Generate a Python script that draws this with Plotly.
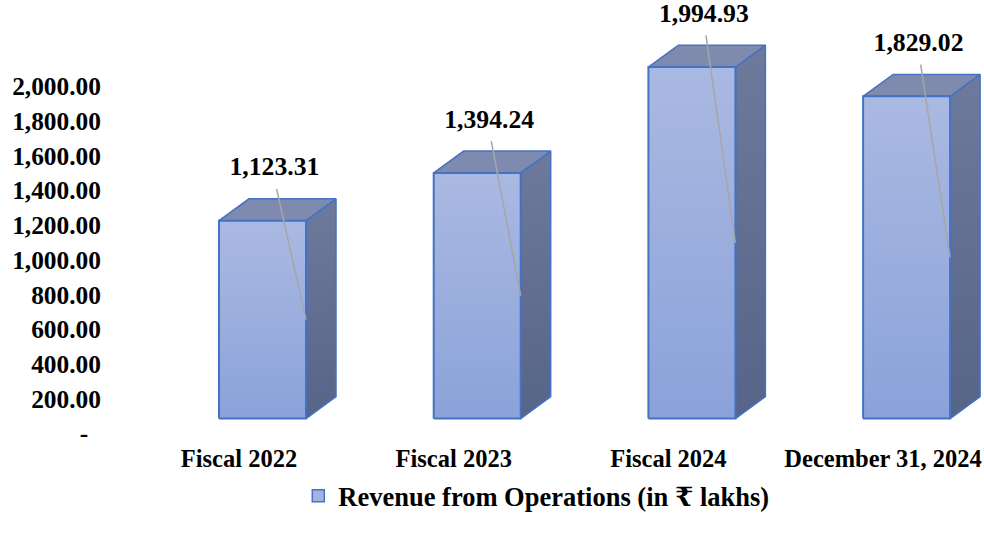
import plotly.graph_objects as go

# ---------------- data ----------------
categories = ["Fiscal 2022", "Fiscal 2023", "Fiscal 2024", "December 31, 2024"]
revenue = [1123.31, 1394.24, 1994.93, 1829.02]
value_labels = ["1,123.31", "1,394.24", "1,994.93", "1,829.02"]
y_tick_values = [0, 200, 400, 600, 800, 1000, 1200, 1400, 1600, 1800, 2000]
y_tick_labels = ["-\u00a0\u00a0", "200.00", "400.00", "600.00", "800.00", "1,000.00",
                 "1,200.00", "1,400.00", "1,600.00", "1,800.00", "2,000.00"]
series_name = "Revenue from Operations (in ₹ lakhs)"

# ---------------- layout constants (pixels) ----------------
W, H = 984, 542
PLOT_L, PLOT_R, PLOT_T, PLOT_B = 115, 984, 0, 436
X0_PX, X_STEP = 239, 214.7          # first category position, spacing
AX_SCALE = 0.1745                   # px per unit of the label axis
BAR_SCALE = 0.1772                  # px per unit of the bar axis
BAR_BASE_PX = 421                   # pixel row of the bar bottoms
FRONT_L_PX, FRONT_R_PX = -20, 67    # front face relative to category pos
DEPTH_X_PX, DEPTH_Y_PX = 30, 22

x_range = [(PLOT_L - X0_PX) / X_STEP, (PLOT_R - X0_PX) / X_STEP]
y_range = [0, (PLOT_B - PLOT_T) / AX_SCALE]
y2_range = [-(PLOT_B - BAR_BASE_PX) / BAR_SCALE, (BAR_BASE_PX - PLOT_T) / BAR_SCALE]

fl, fr = FRONT_L_PX / X_STEP, FRONT_R_PX / X_STEP
dx, dy = DEPTH_X_PX / X_STEP, DEPTH_Y_PX / BAR_SCALE

FONT = "Liberation Serif, Times New Roman, DejaVu Serif, serif"
EDGE = "#4472C4"

fig = go.Figure()

for i, v in enumerate(revenue):
    xl, xr = i + fl, i + fr
    # side face
    fig.add_trace(go.Scatter(
        x=[xr, xr + dx, xr + dx, xr, xr], y=[0, dy, v + dy, v, 0],
        mode="lines", fill="toself", yaxis="y2",
        line=dict(color=EDGE, width=1.5),
        fillgradient=dict(type="vertical",
                          colorscale=[[0, "#566488"], [1, "#6E7A9C"]]),
        hoverinfo="skip", showlegend=False))
    # top face
    fig.add_trace(go.Scatter(
        x=[xl, xr, xr + dx, xl + dx, xl], y=[v, v, v + dy, v + dy, v],
        mode="lines", fill="toself", yaxis="y2",
        line=dict(color=EDGE, width=1.5), fillcolor="#7E8BAE",
        hoverinfo="skip", showlegend=False))
    # front face
    fig.add_trace(go.Scatter(
        x=[xl, xr, xr, xl, xl], y=[0, 0, v, v, 0],
        mode="lines", fill="toself", yaxis="y2",
        line=dict(color=EDGE, width=2),
        fillgradient=dict(type="vertical",
                          colorscale=[[0, "#8BA2D9"], [1, "#AAB9E2"]]),
        hoverinfo="skip", showlegend=False))
    # leader line
    fig.add_trace(go.Scatter(
        x=[i + 0.175, xr], y=[v + dy + 10 / BAR_SCALE, v / 2],
        mode="lines", yaxis="y2", line=dict(color="#A6A6A6", width=1.5),
        hoverinfo="skip", showlegend=False))

# value labels
fig.add_trace(go.Scatter(
    x=[i + 0.165 for i in range(len(revenue))],
    y=[v + dy + 30 / BAR_SCALE for v in revenue],
    mode="text", text=value_labels, yaxis="y2", cliponaxis=False,
    textfont=dict(family=FONT, size=25.7, color="black", weight="bold"),
    hoverinfo="skip", showlegend=False))

# legend entry
fig.add_trace(go.Bar(
    x=[None], y=[None], name=series_name,
    marker=dict(color="#A4B4E0", line=dict(color=EDGE, width=1.5)),
    showlegend=True))

fig.update_layout(
    width=W, height=H,
    margin=dict(l=PLOT_L, r=W - PLOT_R, t=PLOT_T, b=H - PLOT_B),
    paper_bgcolor="white", plot_bgcolor="white",
    font=dict(family=FONT, size=24, color="black", weight="bold"),
    xaxis=dict(range=x_range, tickvals=list(range(len(categories))),
               ticktext=categories, showgrid=False, zeroline=False,
               showline=False, ticks="", tickfont=dict(size=24.5),
               ticklabelstandoff=8),
    yaxis=dict(range=y_range, tickvals=y_tick_values, ticktext=y_tick_labels,
               showgrid=False, zeroline=False, showline=False, ticks="",
               ticklabelstandoff=13, tickfont=dict(size=25.4)),
    yaxis2=dict(range=y2_range, overlaying="y", visible=False),
    legend=dict(orientation="h", xref="container", yref="container",
                x=0.545, y=0.085, xanchor="center", yanchor="middle",
                font=dict(size=26.5), itemwidth=30),
    showlegend=True,
)

fig.write_html("out.html", config={"displayModeBar": False},
               post_script="document.body.style.margin='0';")
